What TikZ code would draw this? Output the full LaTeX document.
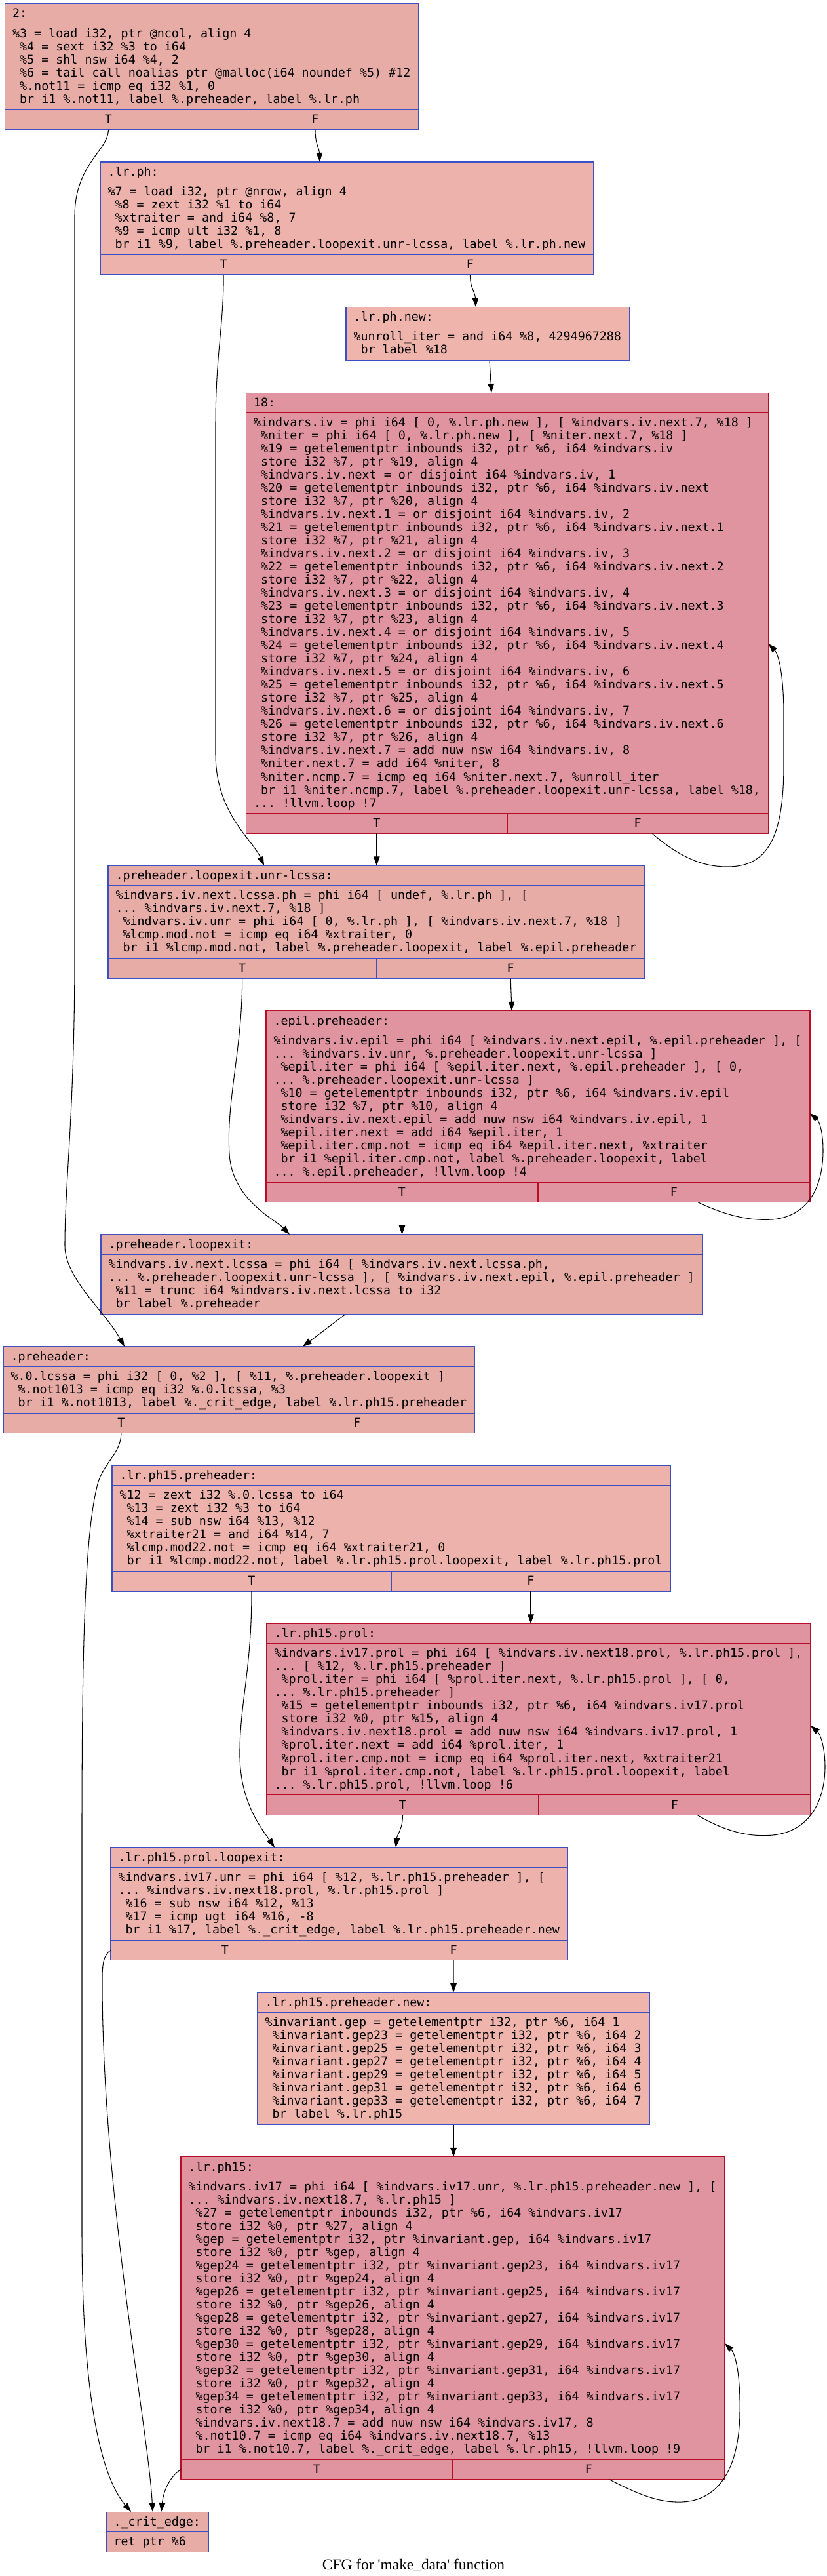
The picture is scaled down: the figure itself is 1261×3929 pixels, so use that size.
\documentclass[tikz,border=0pt]{standalone}
\usepackage{fontspec}
\usetikzlibrary{arrows.meta}
\newfontfamily\cfgmono{DejaVu Sans Mono}
\newfontfamily\capfont{Liberation Serif}
\definecolor{coldA}{HTML}{E8ACA7}
\definecolor{coldB}{HTML}{EDB2AB}
\definecolor{coldC}{HTML}{EFB5AD}
\definecolor{hotF}{HTML}{DF94A0}
\definecolor{blueE}{HTML}{3D50C3}
\definecolor{redE}{HTML}{B70D28}
\tikzset{
  cold/.style={draw=blueE, line width=1.05pt, inner sep=0pt, outer sep=0pt, anchor=north west},
  hot/.style={draw=redE, line width=1.05pt, inner sep=0pt, outer sep=0pt, anchor=north west},
  coldsep/.style={draw=blueE, line width=1.05pt},
  hotsep/.style={draw=redE, line width=1.05pt},
  mono/.style={font=\cfgmono\fontsize{18.34}{20}\selectfont\frenchspacing, inner sep=0pt, outer sep=0pt},
  hdr/.style={mono, anchor=base west},
  bdy/.style={mono, anchor=north west},
  tflab/.style={mono, anchor=base},
  cfgarrow/.style={draw=black, line width=1.05pt, -{Triangle[length=14pt,width=9.5pt]}},
}
% #1 name, #2 kind, #3 fill, #4 x0, #5 top, #6 width, #7 header bottom, #8 body bottom, #9 bottom
\newcommand\tfbox[9]{%
  \node[#2, fill=#3, minimum width=#6pt, minimum height={(#9-#5)*1pt}] (#1) at (#4,#5) {};
  \draw[#2sep] (#4,#7) -- ++(#6,0);
  \draw[#2sep] (#4,#8) -- ++(#6,0);
  \draw[#2sep] ({#4+#6/2},#8) -- ({#4+#6/2},#9);
}
% #1 name, #2 kind, #3 fill, #4 x0, #5 top, #6 width, #7 header bottom, #8 bottom
\newcommand\plainbox[8]{%
  \node[#2, fill=#3, minimum width=#6pt, minimum height={(#8-#5)*1pt}] (#1) at (#4,#5) {};
  \draw[#2sep] (#4,#7) -- ++(#6,0);
}
\begin{document}
\begin{tikzpicture}[x=1pt,y=-1pt]
\useasboundingbox (0,0) rectangle (1261,3929);
\fill[white] (0,0) rectangle (1261,3929);

% ---------- 2:
\tfbox{n1}{cold}{coldA}{7.6}{5.7}{631.2}{36.2}{167.2}{197.7}
\node[hdr] (n1h) at (19.1,27.0) {2:};
\node[bdy] (n1b) at (19.1,43.0) {\begin{tabular}{@{}l@{}}
\%3 = load i32, ptr @ncol, align 4\\
\ \%4 = sext i32 \%3 to i64\\
\ \%5 = shl nsw i64 \%4, 2\\
\ \%6 = tail call noalias ptr @malloc(i64 noundef \%5) \#12\\
\ \%.not11 = icmp eq i32 \%1, 0\\
\ br i1 \%.not11, label \%.preheader, label \%.lr.ph
\end{tabular}};
\node[tflab] (n1t) at (165.4,188.5) {T};
\node[tflab] (n1f) at (481,188.5) {F};

% ---------- .lr.ph
\tfbox{n2}{cold}{coldB}{153}{247.0}{752.6}{277.5}{388.5}{419.0}
\node[hdr] (n2h) at (164.5,268.3) {.lr.ph:};
\node[bdy] (n2b) at (164.5,284.3) {\begin{tabular}{@{}l@{}}
\%7 = load i32, ptr @nrow, align 4\\
\ \%8 = zext i32 \%1 to i64\\
\ \%xtraiter = and i64 \%8, 7\\
\ \%9 = icmp ult i32 \%1, 8\\
\ br i1 \%9, label \%.preheader.loopexit.unr-lcssa, label \%.lr.ph.new
\end{tabular}};
\node[tflab] (n2t) at (341.15,409.8) {T};
\node[tflab] (n2f) at (717.45,409.8) {F};

% ---------- .lr.ph.new
\plainbox{n3}{cold}{coldC}{528}{468.3}{432.5}{498.8}{549.8}
\node[hdr] (n3h) at (539.5,489.6) {.lr.ph.new:};
\node[bdy] (n3b) at (539.5,505.6) {\begin{tabular}{@{}l@{}}
\%unroll\_iter = and i64 \%8, 4294967288\\
\ br label \%18
\end{tabular}};

% ---------- 18
\tfbox{n4}{hot}{hotF}{375.6}{599.1}{796.8}{629.6}{1240.6}{1271.1}
\node[hdr] (n4h) at (387.1,620.4) {18:};
\node[bdy] (n4b) at (387.1,636.4) {\begin{tabular}{@{}l@{}}
\%indvars.iv = phi i64 [ 0, \%.lr.ph.new ], [ \%indvars.iv.next.7, \%18 ]\\
\ \%niter = phi i64 [ 0, \%.lr.ph.new ], [ \%niter.next.7, \%18 ]\\
\ \%19 = getelementptr inbounds i32, ptr \%6, i64 \%indvars.iv\\
\ store i32 \%7, ptr \%19, align 4\\
\ \%indvars.iv.next = or disjoint i64 \%indvars.iv, 1\\
\ \%20 = getelementptr inbounds i32, ptr \%6, i64 \%indvars.iv.next\\
\ store i32 \%7, ptr \%20, align 4\\
\ \%indvars.iv.next.1 = or disjoint i64 \%indvars.iv, 2\\
\ \%21 = getelementptr inbounds i32, ptr \%6, i64 \%indvars.iv.next.1\\
\ store i32 \%7, ptr \%21, align 4\\
\ \%indvars.iv.next.2 = or disjoint i64 \%indvars.iv, 3\\
\ \%22 = getelementptr inbounds i32, ptr \%6, i64 \%indvars.iv.next.2\\
\ store i32 \%7, ptr \%22, align 4\\
\ \%indvars.iv.next.3 = or disjoint i64 \%indvars.iv, 4\\
\ \%23 = getelementptr inbounds i32, ptr \%6, i64 \%indvars.iv.next.3\\
\ store i32 \%7, ptr \%23, align 4\\
\ \%indvars.iv.next.4 = or disjoint i64 \%indvars.iv, 5\\
\ \%24 = getelementptr inbounds i32, ptr \%6, i64 \%indvars.iv.next.4\\
\ store i32 \%7, ptr \%24, align 4\\
\ \%indvars.iv.next.5 = or disjoint i64 \%indvars.iv, 6\\
\ \%25 = getelementptr inbounds i32, ptr \%6, i64 \%indvars.iv.next.5\\
\ store i32 \%7, ptr \%25, align 4\\
\ \%indvars.iv.next.6 = or disjoint i64 \%indvars.iv, 7\\
\ \%26 = getelementptr inbounds i32, ptr \%6, i64 \%indvars.iv.next.6\\
\ store i32 \%7, ptr \%26, align 4\\
\ \%indvars.iv.next.7 = add nuw nsw i64 \%indvars.iv, 8\\
\ \%niter.next.7 = add i64 \%niter, 8\\
\ \%niter.ncmp.7 = icmp eq i64 \%niter.next.7, \%unroll\_iter\\
\ br i1 \%niter.ncmp.7, label \%.preheader.loopexit.unr-lcssa, label \%18,\\
... !llvm.loop !7
\end{tabular}};
\node[tflab] (n4t) at (574.8,1261.9) {T};
\node[tflab] (n4f) at (973.2,1261.9) {F};

% ---------- .preheader.loopexit.unr-lcssa
\tfbox{n5}{cold}{coldA}{165}{1320.4}{818.9}{1350.9}{1461.9}{1492.4}
\node[hdr] (n5h) at (176.5,1341.7) {.preheader.loopexit.unr-lcssa:};
\node[bdy] (n5b) at (176.5,1357.7) {\begin{tabular}{@{}l@{}}
\%indvars.iv.next.lcssa.ph = phi i64 [ undef, \%.lr.ph ], [\\
... \%indvars.iv.next.7, \%18 ]\\
\ \%indvars.iv.unr = phi i64 [ 0, \%.lr.ph ], [ \%indvars.iv.next.7, \%18 ]\\
\ \%lcmp.mod.not = icmp eq i64 \%xtraiter, 0\\
\ br i1 \%lcmp.mod.not, label \%.preheader.loopexit, label \%.epil.preheader
\end{tabular}};
\node[tflab] (n5t) at (369.7,1483.2) {T};
\node[tflab] (n5f) at (779.2,1483.2) {F};

% ---------- .epil.preheader
\tfbox{n6}{hot}{hotF}{406}{1541.7}{830}{1572.2}{1803.2}{1833.7}
\node[hdr] (n6h) at (417.5,1563.0) {.epil.preheader:};
\node[bdy] (n6b) at (417.5,1579.0) {\begin{tabular}{@{}l@{}}
\%indvars.iv.epil = phi i64 [ \%indvars.iv.next.epil, \%.epil.preheader ], [\\
... \%indvars.iv.unr, \%.preheader.loopexit.unr-lcssa ]\\
\ \%epil.iter = phi i64 [ \%epil.iter.next, \%.epil.preheader ], [ 0,\\
... \%.preheader.loopexit.unr-lcssa ]\\
\ \%10 = getelementptr inbounds i32, ptr \%6, i64 \%indvars.iv.epil\\
\ store i32 \%7, ptr \%10, align 4\\
\ \%indvars.iv.next.epil = add nuw nsw i64 \%indvars.iv.epil, 1\\
\ \%epil.iter.next = add i64 \%epil.iter, 1\\
\ \%epil.iter.cmp.not = icmp eq i64 \%epil.iter.next, \%xtraiter\\
\ br i1 \%epil.iter.cmp.not, label \%.preheader.loopexit, label\\
... \%.epil.preheader, !llvm.loop !4
\end{tabular}};
\node[tflab] (n6t) at (613.5,1824.5) {T};
\node[tflab] (n6f) at (1028.5,1824.5) {F};

% ---------- .preheader.loopexit
\plainbox{n7}{cold}{coldA}{154}{1883.0}{918.2}{1913.5}{2004.5}
\node[hdr] (n7h) at (165.5,1904.3) {.preheader.loopexit:};
\node[bdy] (n7b) at (165.5,1920.3) {\begin{tabular}{@{}l@{}}
\%indvars.iv.next.lcssa = phi i64 [ \%indvars.iv.next.lcssa.ph,\\
... \%.preheader.loopexit.unr-lcssa ], [ \%indvars.iv.next.epil, \%.epil.preheader ]\\
\ \%11 = trunc i64 \%indvars.iv.next.lcssa to i32\\
\ br label \%.preheader
\end{tabular}};

% ---------- .preheader
\tfbox{n8}{cold}{coldA}{5}{2053.8}{719.5}{2084.3}{2155.3}{2185.8}
\node[hdr] (n8h) at (16.5,2075.1) {.preheader:};
\node[bdy] (n8b) at (16.5,2091.1) {\begin{tabular}{@{}l@{}}
\%.0.lcssa = phi i32 [ 0, \%2 ], [ \%11, \%.preheader.loopexit ]\\
\ \%.not1013 = icmp eq i32 \%.0.lcssa, \%3\\
\ br i1 \%.not1013, label \%.\_crit\_edge, label \%.lr.ph15.preheader
\end{tabular}};
\node[tflab] (n8t) at (184.9,2176.6) {T};
\node[tflab] (n8f) at (544.6,2176.6) {F};

% ---------- .lr.ph15.preheader
\tfbox{n9}{cold}{coldB}{171}{2235.1}{852}{2265.6}{2396.6}{2427.1}
\node[hdr] (n9h) at (182.5,2256.4) {.lr.ph15.preheader:};
\node[bdy] (n9b) at (182.5,2272.4) {\begin{tabular}{@{}l@{}}
\%12 = zext i32 \%.0.lcssa to i64\\
\ \%13 = zext i32 \%3 to i64\\
\ \%14 = sub nsw i64 \%13, \%12\\
\ \%xtraiter21 = and i64 \%14, 7\\
\ \%lcmp.mod22.not = icmp eq i64 \%xtraiter21, 0\\
\ br i1 \%lcmp.mod22.not, label \%.lr.ph15.prol.loopexit, label \%.lr.ph15.prol
\end{tabular}};
\node[tflab] (n9t) at (384,2417.9) {T};
\node[tflab] (n9f) at (810,2417.9) {F};

% ---------- .lr.ph15.prol
\tfbox{n10}{hot}{hotF}{407}{2476.4}{830}{2506.9}{2737.9}{2768.4}
\node[hdr] (n10h) at (418.5,2497.7) {.lr.ph15.prol:};
\node[bdy] (n10b) at (418.5,2513.7) {\begin{tabular}{@{}l@{}}
\%indvars.iv17.prol = phi i64 [ \%indvars.iv.next18.prol, \%.lr.ph15.prol ],\\
... [ \%12, \%.lr.ph15.preheader ]\\
\ \%prol.iter = phi i64 [ \%prol.iter.next, \%.lr.ph15.prol ], [ 0,\\
... \%.lr.ph15.preheader ]\\
\ \%15 = getelementptr inbounds i32, ptr \%6, i64 \%indvars.iv17.prol\\
\ store i32 \%0, ptr \%15, align 4\\
\ \%indvars.iv.next18.prol = add nuw nsw i64 \%indvars.iv17.prol, 1\\
\ \%prol.iter.next = add i64 \%prol.iter, 1\\
\ \%prol.iter.cmp.not = icmp eq i64 \%prol.iter.next, \%xtraiter21\\
\ br i1 \%prol.iter.cmp.not, label \%.lr.ph15.prol.loopexit, label\\
... \%.lr.ph15.prol, !llvm.loop !6
\end{tabular}};
\node[tflab] (n10t) at (614.5,2759.2) {T};
\node[tflab] (n10f) at (1029.5,2759.2) {F};

% ---------- .lr.ph15.prol.loopexit
\tfbox{n11}{cold}{coldB}{169}{2817.7}{697.4}{2848.2}{2959.2}{2989.7}
\node[hdr] (n11h) at (180.5,2839.0) {.lr.ph15.prol.loopexit:};
\node[bdy] (n11b) at (180.5,2855.0) {\begin{tabular}{@{}l@{}}
\%indvars.iv17.unr = phi i64 [ \%12, \%.lr.ph15.preheader ], [\\
... \%indvars.iv.next18.prol, \%.lr.ph15.prol ]\\
\ \%16 = sub nsw i64 \%12, \%13\\
\ \%17 = icmp ugt i64 \%16, -8\\
\ br i1 \%17, label \%.\_crit\_edge, label \%.lr.ph15.preheader.new
\end{tabular}};
\node[tflab] (n11t) at (343.35,2980.5) {T};
\node[tflab] (n11f) at (692.05,2980.5) {F};

% ---------- .lr.ph15.preheader.new
\plainbox{n12}{cold}{coldC}{393}{3039.0}{598}{3069.5}{3240.5}
\node[hdr] (n12h) at (404.5,3060.3) {.lr.ph15.preheader.new:};
\node[bdy] (n12b) at (404.5,3076.3) {\begin{tabular}{@{}l@{}}
\%invariant.gep = getelementptr i32, ptr \%6, i64 1\\
\ \%invariant.gep23 = getelementptr i32, ptr \%6, i64 2\\
\ \%invariant.gep25 = getelementptr i32, ptr \%6, i64 3\\
\ \%invariant.gep27 = getelementptr i32, ptr \%6, i64 4\\
\ \%invariant.gep29 = getelementptr i32, ptr \%6, i64 5\\
\ \%invariant.gep31 = getelementptr i32, ptr \%6, i64 6\\
\ \%invariant.gep33 = getelementptr i32, ptr \%6, i64 7\\
\ br label \%.lr.ph15
\end{tabular}};

% ---------- .lr.ph15
\tfbox{n13}{hot}{hotF}{276}{3289.8}{830}{3320.3}{3751.3}{3781.8}
\node[hdr] (n13h) at (287.5,3311.1) {.lr.ph15:};
\node[bdy] (n13b) at (287.5,3327.1) {\begin{tabular}{@{}l@{}}
\%indvars.iv17 = phi i64 [ \%indvars.iv17.unr, \%.lr.ph15.preheader.new ], [\\
... \%indvars.iv.next18.7, \%.lr.ph15 ]\\
\ \%27 = getelementptr inbounds i32, ptr \%6, i64 \%indvars.iv17\\
\ store i32 \%0, ptr \%27, align 4\\
\ \%gep = getelementptr i32, ptr \%invariant.gep, i64 \%indvars.iv17\\
\ store i32 \%0, ptr \%gep, align 4\\
\ \%gep24 = getelementptr i32, ptr \%invariant.gep23, i64 \%indvars.iv17\\
\ store i32 \%0, ptr \%gep24, align 4\\
\ \%gep26 = getelementptr i32, ptr \%invariant.gep25, i64 \%indvars.iv17\\
\ store i32 \%0, ptr \%gep26, align 4\\
\ \%gep28 = getelementptr i32, ptr \%invariant.gep27, i64 \%indvars.iv17\\
\ store i32 \%0, ptr \%gep28, align 4\\
\ \%gep30 = getelementptr i32, ptr \%invariant.gep29, i64 \%indvars.iv17\\
\ store i32 \%0, ptr \%gep30, align 4\\
\ \%gep32 = getelementptr i32, ptr \%invariant.gep31, i64 \%indvars.iv17\\
\ store i32 \%0, ptr \%gep32, align 4\\
\ \%gep34 = getelementptr i32, ptr \%invariant.gep33, i64 \%indvars.iv17\\
\ store i32 \%0, ptr \%gep34, align 4\\
\ \%indvars.iv.next18.7 = add nuw nsw i64 \%indvars.iv17, 8\\
\ \%.not10.7 = icmp eq i64 \%indvars.iv.next18.7, \%13\\
\ br i1 \%.not10.7, label \%.\_crit\_edge, label \%.lr.ph15, !llvm.loop !9
\end{tabular}};
\node[tflab] (n13t) at (483.5,3772.6) {T};
\node[tflab] (n13f) at (898.5,3772.6) {F};

% ---------- ._crit_edge
\plainbox{n14}{cold}{coldA}{162}{3831.1}{156.5}{3861.6}{3892.6}
\node[hdr] (n14h) at (173.5,3852.4) {.\_crit\_edge:};
\node[bdy] (n14b) at (173.5,3868.4) {\begin{tabular}{@{}l@{}}
ret ptr \%6
\end{tabular}};

% ---------- caption
\node[font=\capfont\fontsize{23.4}{28}\selectfont, anchor=base, inner sep=0pt] (caption) at (631,3919) {CFG for 'make\_data' function};

% ---------- connector end points
\coordinate (e1s) at (165.4,197.7);   \coordinate (e1t) at (190,2053.8);
\coordinate (e2s) at (481,197.7);     \coordinate (e2t) at (488,247.0);
\coordinate (e3s) at (341.15,419.0);  \coordinate (e3t) at (403,1320.4);
\coordinate (e4s) at (717.45,419.0);  \coordinate (e4t) at (726,468.3);
\coordinate (e5s) at (747,549.8);     \coordinate (e5t) at (750,599.1);
\coordinate (e6s) at (574.8,1271.1);  \coordinate (e6t) at (574.8,1320.4);
\coordinate (e7s) at (995,1271.1);    \coordinate (e7t) at (1172.4,982);
\coordinate (e8s) at (369.7,1492.4);  \coordinate (e8t) at (442,1883.0);
\coordinate (e9s) at (779.2,1492.4);  \coordinate (e9t) at (781,1541.7);
\coordinate (e10s) at (613.5,1833.7); \coordinate (e10t) at (613.5,1883.0);
\coordinate (e11s) at (1065,1833.7);  \coordinate (e11t) at (1236,1698);
\coordinate (e12s) at (527,2004.5);   \coordinate (e12t) at (462,2053.8);
\coordinate (e13s) at (184.9,2185.8); \coordinate (e13t) at (200,3831.1);
\coordinate (e14s) at (384,2427.1);   \coordinate (e14t) at (419,2817.7);
\coordinate (e15s) at (810,2427.1);   \coordinate (e15t) at (810,2476.4);
\coordinate (e16s) at (614.5,2768.4); \coordinate (e16t) at (604,2817.7);
\coordinate (e17s) at (1064,2768.4);  \coordinate (e17t) at (1237,2632);
\coordinate (e18s) at (169,2974.5);   \coordinate (e18t) at (233,3831.1);
\coordinate (e19s) at (692.05,2989.7);\coordinate (e19t) at (692,3039.0);
\coordinate (e20s) at (692,3240.5);   \coordinate (e20t) at (692,3289.8);
\coordinate (e21s) at (276,3766.5);   \coordinate (e21t) at (246,3831.1);
\coordinate (e22s) at (930,3781.8);   \coordinate (e22t) at (1106,3574);

% ---------- connectors
\draw[cfgarrow] (e1s) .. controls (165.4,230) and (114,250) .. (114,330) -- (114,1450) .. controls (114,1700) and (99,1800) .. (99,1900) .. controls (99,1950) and (160,2000) .. (e1t);
\draw[cfgarrow] (e2s) .. controls (481,220) and (487,225) .. (e2t);
\draw[cfgarrow] (e3s) .. controls (341.15,500) and (329,540) .. (329,650) -- (329,1150) .. controls (329,1240) and (385,1280) .. (e3t);
\draw[cfgarrow] (e4s) .. controls (717.45,440) and (725,445) .. (e4t);
\draw[cfgarrow] (e5s) -- (e5t);
\draw[cfgarrow] (e6s) -- (e6t);
\draw[cfgarrow] (e7s) .. controls (1040,1310) and (1075,1322) .. (1110,1322) .. controls (1170,1322) and (1196,1280) .. (1196,1166) -- (1196,1090) .. controls (1196,1040) and (1190,1000) .. (e7t);
\draw[cfgarrow] (e8s) .. controls (369.7,1600) and (345,1680) .. (350,1760) .. controls (354,1830) and (420,1860) .. (e8t);
\draw[cfgarrow] (e9s) -- (e9t);
\draw[cfgarrow] (e10s) -- (e10t);
\draw[cfgarrow] (e11s) .. controls (1110,1855) and (1145,1862) .. (1178,1860) .. controls (1240,1855) and (1256,1800) .. (1256,1755) .. controls (1256,1725) and (1250,1710) .. (e11t);
\draw[cfgarrow] (e12s) -- (e12t);
\draw[cfgarrow] (e13s) .. controls (184.9,2215) and (160,2230) .. (150,2260) .. controls (130,2330) and (125,2500) .. (125,2800) -- (125,3400) .. controls (125,3700) and (165,3790) .. (e13t);
\draw[cfgarrow] (e14s) .. controls (384,2550) and (365,2600) .. (366,2680) .. controls (367,2750) and (400,2790) .. (e14t);
\draw[cfgarrow] (e15s) -- (e15t);
\draw[cfgarrow] (e16s) .. controls (614.5,2790) and (606,2798) .. (e16t);
\draw[cfgarrow] (e17s) .. controls (1110,2795) and (1145,2802) .. (1179,2799) .. controls (1240,2793) and (1259,2740) .. (1259,2695) .. controls (1259,2665) and (1252,2645) .. (e17t);
\draw[cfgarrow] (e18s) .. controls (158,2982) and (156,2995) .. (156,3020) .. controls (156,3350) and (226,3700) .. (e18t);
\draw[cfgarrow] (e19s) -- (e19t);
\draw[cfgarrow] (e20s) -- (e20t);
\draw[cfgarrow] (e21s) .. controls (262,3775) and (250,3795) .. (e21t);
\draw[cfgarrow] (e22s) .. controls (975,3805) and (1005,3817) .. (1040,3816) .. controls (1100,3814) and (1128,3760) .. (1129,3680) .. controls (1130,3620) and (1122,3590) .. (e22t);
\end{tikzpicture}
\end{document}
